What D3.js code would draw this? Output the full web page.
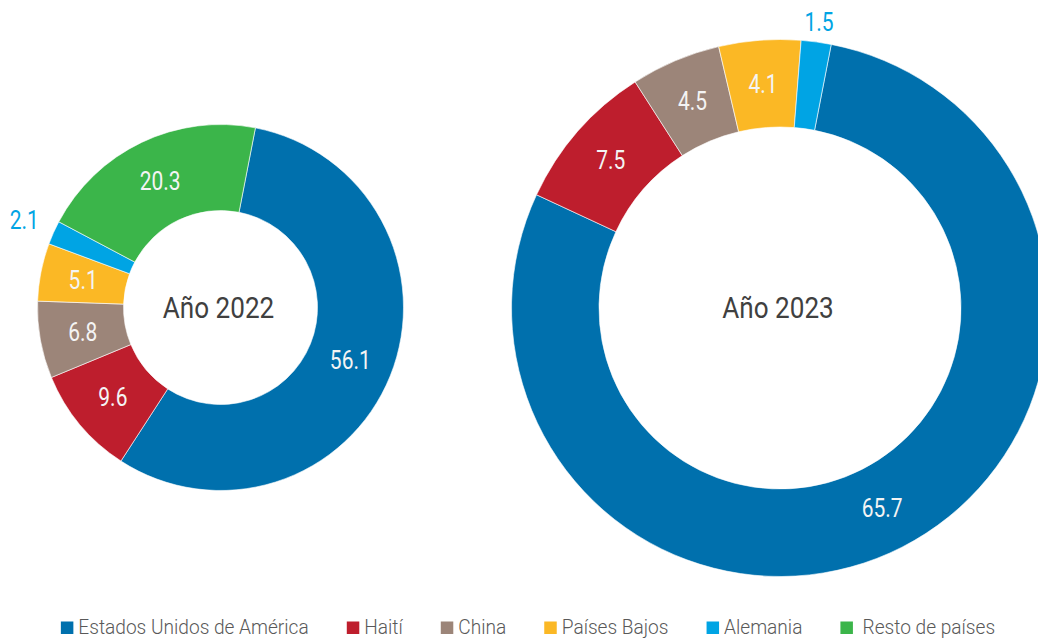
<!DOCTYPE html>
<html>
<head>
<meta charset="utf-8">
<script src="https://cdn.jsdelivr.net/npm/d3@7"></script>
<style>
  body { margin: 0; background: #fff; }
  svg { display: block; }
  text { font-family: Roboto, "Noto Sans", sans-serif; }
  .legend text { white-space: pre; }
</style>
</head>
<body>
<svg id="chart" width="1038" height="639"></svg>
<script>
// Destination of exports by country (%), two years
const categories = ["Estados Unidos de América", "Haití", "China", "Países Bajos", "Alemania", "Resto de países"];
const legendLabels = ["Estados Unidos de América", "Haití", "China", "Países Bajos", "Alemania", " Resto de países"];
const colors = ["#0070ad", "#be1e2d", "#9c8579", "#fbb825", "#00a4e4", "#3bb54a"];
const values2022 = [56.1, 9.6, 6.8, 5.1, 2.1, 20.3];
const values2023 = [65.7, 7.5, 4.5, 4.1, 1.5];
const yearLabels = ["Año 2022", "Año 2023"];

const svg = d3.select("#chart");

// ring geometry for each donut
const donuts = [
  { values: values2022, title: yearLabels[0], cx: 220.5, cy: 307.5, rOuter: 183, rInner: 97, outsideGap: 32 },
  { values: values2023, title: yearLabels[1], cx: 780, cy: 308, rOuter: 268.5, rInner: 181, outsideGap: 20 }
];

const startDeg = 11;
const pie = d3.pie()
  .sort(null)
  .startAngle(startDeg * Math.PI / 180)
  .endAngle(startDeg * Math.PI / 180 + 2 * Math.PI);

const color = d3.scaleOrdinal().domain(categories).range(colors);
const condense = 0.84;   // horizontal squeeze to mimic a condensed face

donuts.forEach(d => {
  const g = svg.append("g").attr("transform", `translate(${d.cx},${d.cy})`);
  const arcs = pie(d.values).map((a, i) => Object.assign(a, { name: categories[i] }));

  const arc = d3.arc().innerRadius(d.rInner).outerRadius(d.rOuter);
  const midR = (d.rInner + d.rOuter) / 2;
  const labelArc = d3.arc().innerRadius(midR).outerRadius(midR);
  const outR = d.rOuter + d.outsideGap;
  const outArc = d3.arc().innerRadius(outR).outerRadius(outR);

  g.selectAll("path.slice")
    .data(arcs)
    .join("path")
    .attr("class", "slice")
    .attr("d", arc)
    .attr("fill", a => color(a.name))
    .attr("stroke", "#fff")
    .attr("stroke-width", 0.6);

  g.selectAll("text.value")
    .data(arcs)
    .join("text")
    .attr("class", "value")
    .attr("transform", a => {
      const [x, y] = a.value < 3 ? outArc.centroid(a) : labelArc.centroid(a);
      return `translate(${x},${y}) scale(${condense},1)`;
    })
    .attr("text-anchor", "middle")
    .attr("dy", "0.36em")
    .attr("font-size", 25)
    .attr("fill", a => a.value < 3 ? color(a.name) : "#f4f4f4")
    .text(a => d3.format(".1f")(a.value));

  g.append("text")
    .attr("transform", `translate(-2,0) scale(0.9,1)`)
    .attr("text-anchor", "middle")
    .attr("dy", "0.36em")
    .attr("font-size", 29)
    .attr("fill", "#404040")
    .text(d.title);
});

// legend along the bottom
const legend = svg.append("g").attr("class", "legend");
const sq = 12.5, legendY = 634, textScale = 0.98, gap = 38;
let x = 0;
const items = legend.selectAll("g.item")
  .data(categories)
  .join("g")
  .attr("class", "item");
items.append("rect")
  .attr("width", sq).attr("height", sq)
  .attr("y", legendY - sq)
  .attr("fill", c => color(c));
items.append("text")
  .attr("y", legendY)
  .attr("font-size", 19.5)
  .attr("font-weight", 300)
  .attr("fill", "#595959")
  .text((c, i) => legendLabels[i]);
items.each(function () {
  const it = d3.select(this);
  const t = it.select("text");
  const w = t.node().getComputedTextLength() * textScale;
  it.select("rect").attr("x", x);
  t.attr("transform", `translate(${x + sq + 5},0) scale(${textScale},1)`);
  x += sq + 5 + w + gap;
});
const total = x - gap;
legend.attr("transform", `translate(${528 - total / 2},0)`);
</script>
</body>
</html>
